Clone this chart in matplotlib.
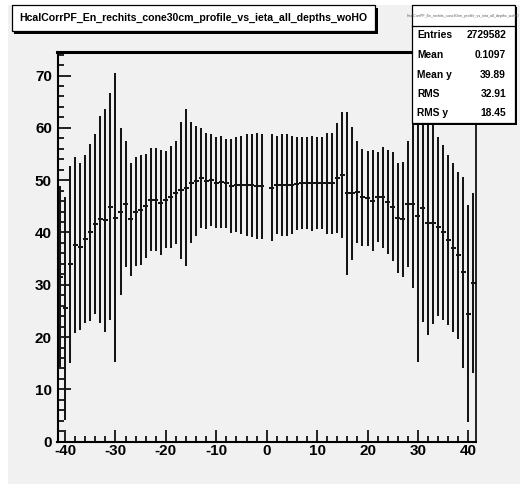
import numpy as np
import matplotlib
matplotlib.use("Agg")
import matplotlib.pyplot as plt
from matplotlib.patches import Rectangle
from matplotlib.ticker import MultipleLocator

plt.rcParams["axes.unicode_minus"] = False

# profile of HCAL energy vs ieta (mean and RMS per bin, bin 0 empty)
ieta = [i for i in range(-41, 42) if i != 0]
mean_y = [31.5, 25.5, 33.9, 37.6, 37.3, 38.8, 40.0, 41.6, 42.5, 42.3,
          44.9, 42.8, 44.0, 45.4, 42.5, 44.0, 44.3, 45.1, 46.3, 46.3,
          45.7, 46.3, 46.8, 47.6, 48.1, 48.6, 49.5, 49.9, 50.4, 49.9,
          50.0, 49.5, 49.7, 49.4, 48.9, 49.1, 49.1, 49.1, 49.0, 48.9,
          48.8,
          48.6, 49.1, 49.1, 49.1, 49.1, 49.3, 49.4, 49.4, 49.4, 49.4,
          49.4, 49.4, 49.4, 50.4, 51.0, 47.5, 47.5, 47.7, 46.7, 46.5,
          46.1, 46.7, 46.7, 45.8, 44.9, 42.8, 42.5, 45.4, 45.4, 43.2,
          44.6, 41.9, 41.9, 41.1, 40.0, 38.6, 37.1, 35.6, 32.4, 24.5,
          30.4]
rms_y = [17.3, 21.3, 18.8, 16.9, 16.0, 16.1, 16.9, 17.2, 19.8, 21.4,
         21.7, 27.6, 15.9, 12.0, 10.8, 10.5, 10.5, 9.9, 9.9, 9.9,
         10.0, 9.3, 9.7, 9.8, 13.1, 15.1, 11.6, 10.5, 9.5, 9.2,
         8.8, 8.7, 8.8, 8.5, 9.0, 9.1, 9.3, 9.7, 9.8, 10.2,
         10.0,
         10.2, 9.4, 9.7, 9.7, 9.4, 8.9, 8.8, 8.8, 9.1, 8.8,
         8.8, 9.7, 9.7, 10.5, 12.1, 15.6, 12.7, 9.7, 9.2, 9.1,
         9.7, 8.6, 9.7, 10.0, 10.4, 10.5, 11.0, 12.0, 16.1, 27.9,
         21.7, 21.5, 19.4, 17.1, 16.7, 16.3, 16.2, 16.0, 18.3, 20.7,
         17.2]

title = "HcalCorrPF_En_rechits_cone30cm_profile_vs_ieta_all_depths_woHO"
stat_names = ["Entries", "Mean", "Mean y", "RMS", "RMS y"]
stat_values = ["2729582", "0.1097", "39.89", "32.91", "18.45"]

W, H = 520, 484
gray = "#f1f1f1"


def fx(px):
    return px / W


def fy(py):
    return 1 - py / H


fig = plt.figure(figsize=(W / 100, H / 100), dpi=100, facecolor="white")
fig.add_artist(Rectangle((fx(8), 0), 1 - fx(8), fy(5), transform=fig.transFigure,
                         facecolor=gray, edgecolor="none", zorder=0))

ax = fig.add_axes([fx(57.5), fy(441.7), fx(475.9) - fx(57.5), fy(52.3) - fy(441.7)])
ax.set_facecolor(gray)

ax.errorbar(ieta, mean_y, yerr=rms_y, xerr=0.5, fmt="none",
            ecolor="#151515", elinewidth=1.45, capsize=0)

ax.set_xlim(-41.5, 41.5)
ax.set_ylim(0, 74.45)
ax.xaxis.set_major_locator(MultipleLocator(10))
ax.xaxis.set_minor_locator(MultipleLocator(2))
ax.yaxis.set_major_locator(MultipleLocator(10))
ax.yaxis.set_minor_locator(MultipleLocator(2))
ax.tick_params(which="both", direction="in", width=1.2, color="black")
ax.tick_params(which="major", length=9)
ax.tick_params(which="minor", length=4.5)
ax.tick_params(axis="x", pad=2)
ax.tick_params(axis="y", pad=4)
for lab in ax.get_xticklabels() + ax.get_yticklabels():
    lab.set_fontfamily("Liberation Sans")
    lab.set_fontweight("bold")
    lab.set_fontsize(11)

ax.spines["top"].set_linewidth(2.2)
ax.spines["left"].set_linewidth(1.5)
ax.spines["bottom"].set_linewidth(1.5)
ax.spines["right"].set_linewidth(1.2)

# title box with shadow
tx0, ty0, tx1, ty1 = 11.7, 5, 375, 31
fig.add_artist(Rectangle((fx(tx0 + 2.5), fy(ty1 + 2.5)), fx(tx1 - tx0), fy(ty0) - fy(ty1),
                         transform=fig.transFigure, facecolor="black", edgecolor="none", zorder=5))
fig.add_artist(Rectangle((fx(tx0), fy(ty1)), fx(tx1 - tx0), fy(ty0) - fy(ty1),
                         transform=fig.transFigure, facecolor="white", edgecolor="black",
                         linewidth=0.9, zorder=6))
fig.text(fx((tx0 + tx1) / 2), fy((ty0 + ty1) / 2), title, ha="center", va="center",
         fontsize=7.6, fontweight="bold", family="Liberation Sans", zorder=7)

# stats box
sx0, sy0, sx1, sy1 = 411.7, 5, 515, 123
fig.add_artist(Rectangle((fx(sx0 + 1.5), fy(sy1 + 1.5)), fx(sx1 - sx0), fy(sy0) - fy(sy1),
                         transform=fig.transFigure, facecolor="black", edgecolor="none", zorder=5))
fig.add_artist(Rectangle((fx(sx0), fy(sy1)), fx(sx1 - sx0), fy(sy0) - fy(sy1),
                         transform=fig.transFigure, facecolor="white", edgecolor="black",
                         linewidth=0.9, zorder=6))
fig.add_artist(plt.Line2D([fx(sx0), fx(sx1)], [fy(26), fy(26)], transform=fig.transFigure,
                          color="black", linewidth=0.9, zorder=7))
fig.text(fx((sx0 + sx1) / 2), fy(16), title, ha="center", va="center",
         fontsize=2.6, family="Liberation Sans", color="#555555", zorder=7)
for i, (name, val) in enumerate(zip(stat_names, stat_values)):
    yy = fy(35.5 + i * 19.5)
    fig.text(fx(417), yy, name, ha="left", va="center", fontsize=7.4,
             fontweight="bold", family="Liberation Sans", zorder=7)
    fig.text(fx(506), yy, val, ha="right", va="center", fontsize=7.4,
             fontweight="bold", family="Liberation Sans", zorder=7)

fig.savefig("out.png", dpi=100, facecolor="white")
